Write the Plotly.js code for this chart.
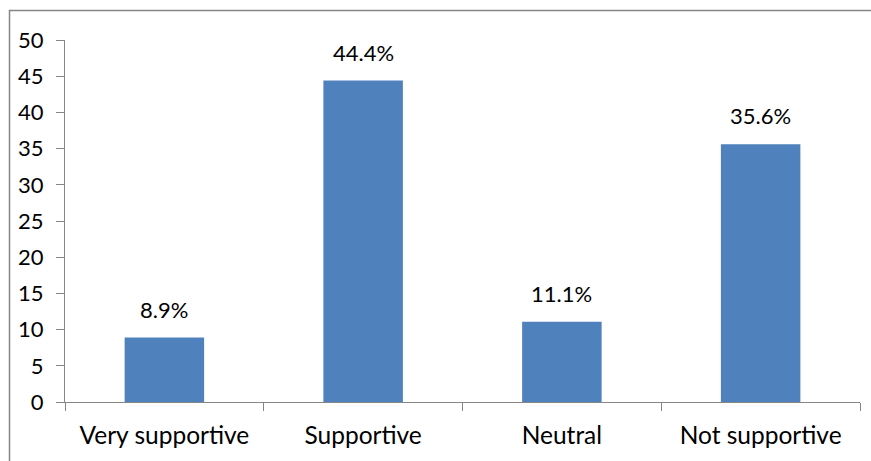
<!DOCTYPE html>
<html>
<head>
<meta charset="utf-8">
<script src="https://cdn.plot.ly/plotly-3.0.1.min.js"></script>
<style>
  html, body { margin: 0; padding: 0; background: #ffffff; }
  #chart { width: 871px; height: 461px; }
</style>
</head>
<body>
<div id="chart"></div>
<script>
// Support levels and their share of responses (%)
const categories = ["Very supportive", "Supportive", "Neutral", "Not supportive"];
const shares = [8.9, 44.4, 11.1, 35.6];
const shareLabels = ["8.9%", "44.4%", "11.1%", "35.6%"];
const yTicks = [0, 5, 10, 15, 20, 25, 30, 35, 40, 45, 50];

const FONT = "Lato, 'Open Sans', sans-serif";
const AXIS_GREY = "#868686";

const trace = {
  type: "bar",
  x: categories,
  y: shares,
  marker: { color: "#4F81BD", line: { width: 0 } },
  hoverinfo: "x+y"
};

// Percentage labels sitting above each bar
const labels = categories.map((c, i) => ({
  x: c,
  y: shares[i],
  xref: "x",
  yref: "y",
  text: shareLabels[i],
  showarrow: false,
  yanchor: "bottom",
  yshift: 13,
  font: { family: FONT, size: 22, color: "#000000" }
}));

const layout = {
  width: 871,
  height: 461,
  margin: { l: 65, r: 11, t: 40, b: 59, pad: 0 },
  paper_bgcolor: "#ffffff",
  plot_bgcolor: "#ffffff",
  showlegend: false,
  bargap: 0.6,
  xaxis: {
    type: "category",
    showline: true,
    linecolor: AXIS_GREY,
    linewidth: 1,
    showgrid: false,
    zeroline: false,
    tickson: "boundaries",
    ticks: "outside",
    ticklen: 8,
    tickcolor: AXIS_GREY,
    ticklabelstandoff: 12,
    tickfont: { family: FONT, size: 24.5, color: "#000000" }
  },
  yaxis: {
    range: [0, 50],
    tickvals: yTicks,
    ticktext: yTicks.map(String),
    showline: true,
    linecolor: AXIS_GREY,
    linewidth: 1,
    showgrid: false,
    zeroline: false,
    ticks: "outside",
    ticklen: 8,
    tickcolor: AXIS_GREY,
    ticklabelstandoff: 8,
    tickfont: { family: FONT, size: 22, color: "#000000" }
  },
  annotations: labels,
  shapes: [{
    type: "rect",
    xref: "paper",
    yref: "paper",
    x0: -0.0698,
    x1: 1.2,
    y0: -0.3,
    y1: 1.0815,
    line: { color: AXIS_GREY, width: 1.5 },
    fillcolor: "rgba(0,0,0,0)",
    layer: "below"
  }]
};

Plotly.newPlot("chart", [trace], layout, { displayModeBar: false, staticPlot: true });
</script>
</body>
</html>
